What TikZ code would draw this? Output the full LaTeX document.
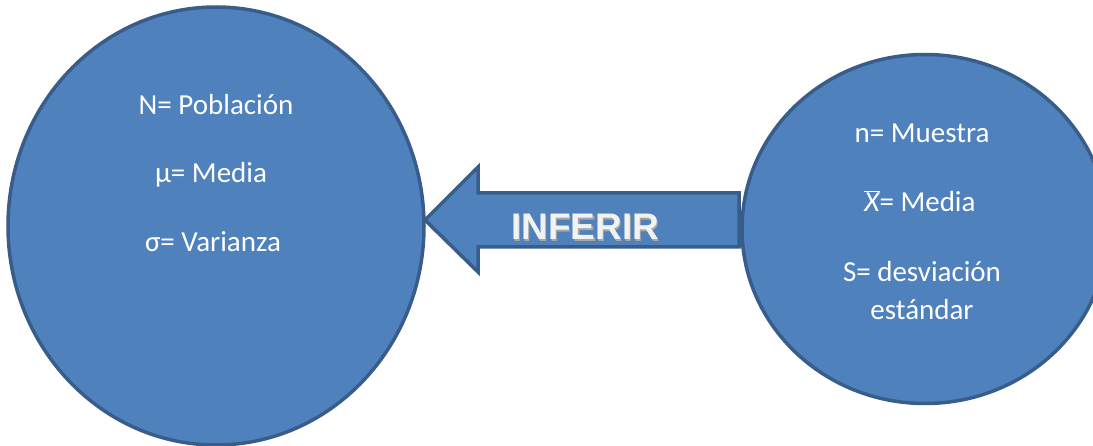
\documentclass[tikz,border=0pt]{standalone}
\usepackage{fontspec}
\setmainfont{Carlito}
\newfontfamily\arrowfont{Liberation Sans}
\usetikzlibrary{shapes.geometric}
\definecolor{fillblue}{HTML}{4F81BD}
\definecolor{edgeblue}{HTML}{385D8A}
\tikzset{
  set/.style={ellipse, draw=edgeblue, fill=fillblue, line width=3.5pt, inner sep=0pt},
  label text/.style={text=white, font=\fontsize{29}{33}\selectfont, align=center},
  arrow body/.style={draw=edgeblue, fill=fillblue, line width=3.5pt, line join=miter},
}
\begin{document}
\begin{tikzpicture}[x=1pt, y=1pt]
\useasboundingbox (0,0) rectangle (1093,445);
% population and sample
\node[set, minimum width=416pt, minimum height=438pt] (pop) at (216,219) {};
\node[set, minimum width=366pt, minimum height=349pt] (sam) at (925,216) {};
% inference arrow from the sample to the population
\coordinate (tip) at (425,225);
\coordinate (tail) at (739,225);
\draw[arrow body] (tip) -- (478,278) -- (478,252) -- (tail |- 0,252) -- (tail |- 0,198)
  -- (478,198) -- (478,173) -- cycle;
\node[text=black!35, font=\arrowfont\bfseries\fontsize{37}{40}\selectfont] (shadow) at (586.5,216.5) {INFERIR};
\node[text=white!95!black, font=\arrowfont\bfseries\fontsize{37}{40}\selectfont] (inf) at (585,218) {INFERIR};
% population parameters
\node[label text] (N) at (216,340) {N= Población};
\node[label text] (mu) at (211,270) {μ= Media};
\node[label text] (sigma) at (213,203) {σ= Varianza};
% sample statistics
\node[label text] (n) at (922,312) {n= Muestra};
\node[label text] (xbar) at (920,244) {$\overline{\mathit{X}}$= Media};
\node[label text] (S) at (922,173) {S= desviación};
\node[label text] (est) at (922,135) {estándar};
\end{tikzpicture}
\end{document}
